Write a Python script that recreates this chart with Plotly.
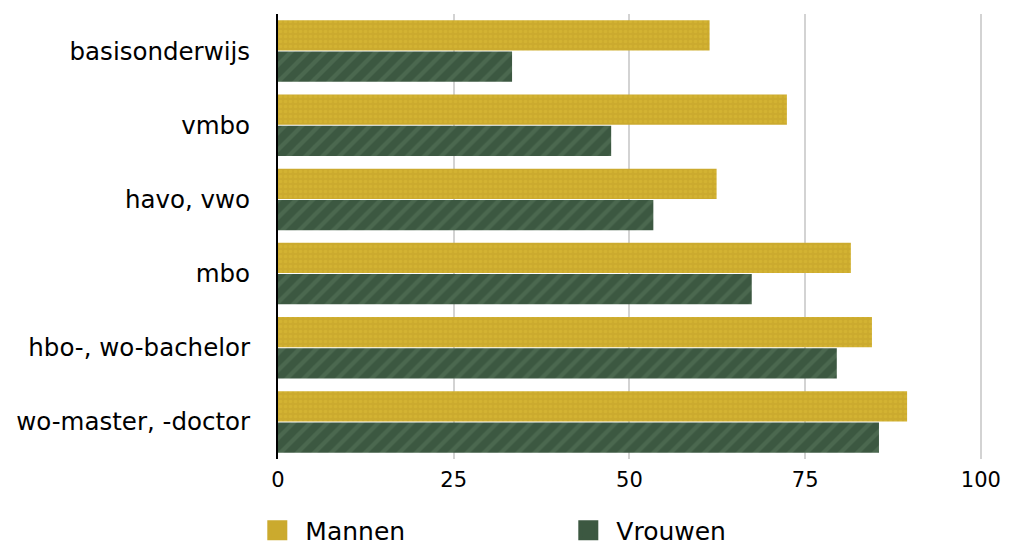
import plotly.graph_objects as go

categories = ["basisonderwijs", "vmbo", "havo, vwo", "mbo", "hbo-, wo-bachelor", "wo-master, -doctor"]
mannen = [61.4, 72.4, 62.4, 81.5, 84.5, 89.5]
vrouwen = [33.3, 47.4, 53.4, 67.4, 79.5, 85.5]
x_ticks = [0, 25, 50, 75, 100]

gold = "#CBAA2E"
green = "#3C5841"
font_family = "DejaVu Sans, Liberation Sans, Arial, sans-serif"

fig = go.Figure()
fig.add_trace(go.Bar(
    y=categories, x=mannen, orientation="h", name="Mannen",
    marker=dict(color=gold, line=dict(width=0),
                pattern=dict(shape=".", fgcolor="#D9B936", fgopacity=0.6, size=5, solidity=0.4)),
    showlegend=False,
))
fig.add_trace(go.Bar(
    y=categories, x=vrouwen, orientation="h", name="Vrouwen",
    marker=dict(color=green, line=dict(width=0),
                pattern=dict(shape="/", fgcolor="#4E6B52", fgopacity=0.8, size=12, solidity=0.35)),
    showlegend=False,
))
fig.add_trace(go.Scatter(x=[None], y=[None], mode="markers", name="Mannen",
                         marker=dict(symbol="square", size=20, color=gold,
                                     line=dict(width=4, color=gold))))
fig.add_trace(go.Scatter(x=[None], y=[None], mode="markers", name="Vrouwen",
                         marker=dict(symbol="square", size=20, color=green,
                                     line=dict(width=4, color=green))))

fig.update_layout(
    width=1009, height=545,
    margin=dict(l=270, r=34, t=6, b=94, autoexpand=False),
    paper_bgcolor="white", plot_bgcolor="white",
    barmode="group", bargap=0.158, bargroupgap=0.03,
    font=dict(family=font_family, size=20, color="black"),
    xaxis=dict(range=[0, 100.3], tickvals=x_ticks, showgrid=True, gridcolor="#D3D3D3", gridwidth=2,
               zeroline=False, showline=False, ticks="", ticklabelstandoff=6,
               automargin=False, tickfont=dict(size=21)),
    yaxis=dict(categoryorder="array", categoryarray=categories, autorange="reversed",
               showline=True, linecolor="black", linewidth=2, showgrid=False, ticks="",
               ticklabelstandoff=21, automargin=False, tickfont=dict(size=24.5)),
    legend=dict(orientation="h", x=-0.0407, xanchor="left", y=-0.109, yanchor="top",
                entrywidth=250, entrywidthmode="pixels", itemsizing="trace", itemwidth=46,
                font=dict(size=25), bgcolor="rgba(0,0,0,0)"),
)
fig.write_html("out.html")
